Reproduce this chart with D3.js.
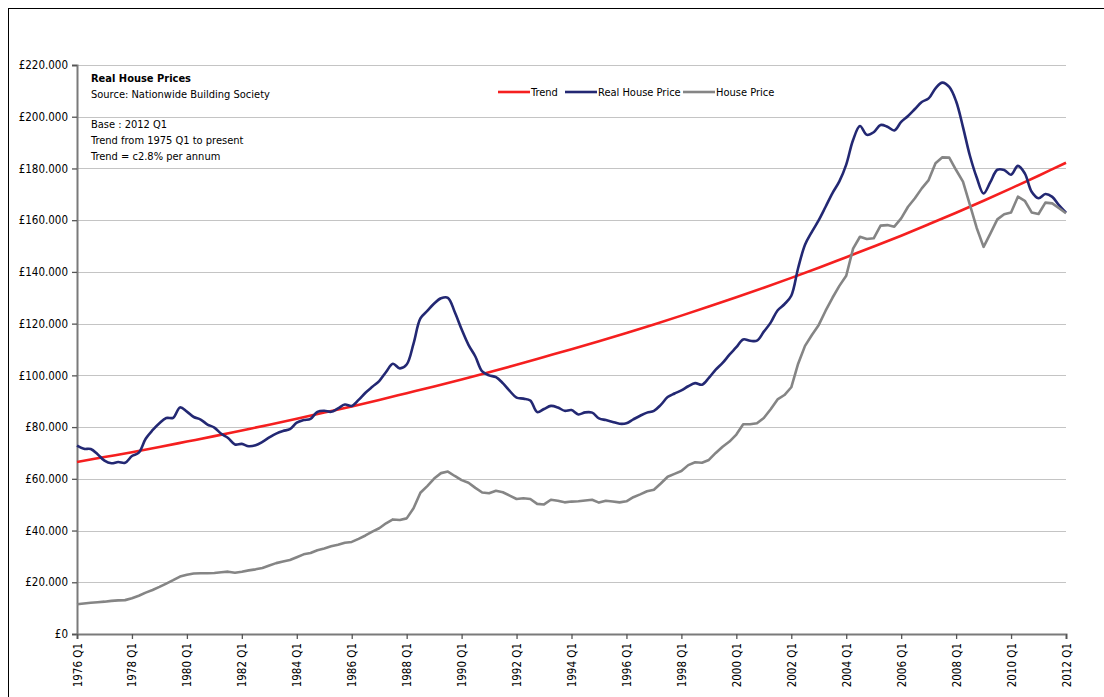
<!DOCTYPE html>
<html>
<head>
<meta charset="utf-8">
<script src="https://cdn.jsdelivr.net/npm/d3@7"></script>
<style>
  body { margin: 0; background: #fff; }
  text { font-family: "DejaVu Sans Condensed", "DejaVu Sans", sans-serif; fill: #000; }
</style>
</head>
<body>
<svg id="chart" width="1104" height="697"></svg>
<script>
// quarterly values, 1976 Q1 .. 2012 Q1, in £ thousands
const realPrice = [
  72.8, 71.6, 71.5, 69.5, 67.0, 66.0, 66.5, 66.2, 68.8, 70.1,
  75.5, 78.8, 81.5, 83.5, 83.6, 87.6, 86.0, 83.9, 82.9, 81.0,
  79.8, 77.4, 75.8, 73.3, 73.5, 72.6, 73.0, 74.3, 76.0, 77.5,
  78.5, 79.2, 81.7, 82.7, 83.2, 85.9, 86.3, 85.9, 87.2, 88.7,
  88.2, 90.5, 93.3, 95.6, 97.8, 101.3, 104.5, 102.7, 104.2, 112.3,
  122.0, 124.9, 127.8, 129.8, 130.0, 124.5, 117.8, 111.8, 107.3, 101.5,
  100.0, 99.3, 97.0, 94.0, 91.4, 91.0, 90.3, 85.8, 87.0, 88.2,
  87.6, 86.3, 86.6, 84.9, 85.7, 85.6, 83.4, 82.7, 82.0, 81.3,
  81.5, 83.0, 84.4, 85.6, 86.3, 88.6, 91.6, 93.0, 94.2, 95.8,
  97.0, 96.4, 99.0, 102.2, 104.8, 108.0, 110.9, 113.9, 113.4, 113.4,
  116.9, 120.4, 125.1, 127.5, 130.8, 141.5, 150.5, 155.5, 160.0, 165.2,
  170.5, 175.0, 181.5, 191.0, 196.4, 193.0, 194.0, 196.8, 196.1, 194.7,
  198.0, 200.3, 203.0, 205.7, 207.1, 211.0, 213.2, 211.5, 206.0, 196.0,
  185.0, 176.5, 170.3, 174.8, 179.5, 179.4, 177.6, 181.0, 178.1, 171.0,
  168.5, 170.1, 169.0, 165.7, 162.9
];
const housePrice = [
  11.5, 11.8, 12.1, 12.3, 12.5, 12.8, 13.0, 13.1, 13.8, 14.8,
  16.0, 17.0, 18.2, 19.5, 20.8, 22.2, 22.9, 23.4, 23.5, 23.5,
  23.6, 23.9, 24.1, 23.7, 24.1, 24.6, 25.0, 25.5, 26.5, 27.4,
  28.0, 28.6, 29.7, 30.8, 31.3, 32.4, 33.1, 33.9, 34.5, 35.3,
  35.6, 36.8, 38.1, 39.6, 40.9, 42.8, 44.3, 44.1, 44.7, 48.6,
  54.6, 57.2, 60.1, 62.2, 62.8, 61.1, 59.5, 58.5, 56.5, 54.7,
  54.4, 55.4, 54.8, 53.5, 52.2, 52.5, 52.2, 50.3, 50.1, 51.9,
  51.5, 50.9, 51.2, 51.3, 51.6, 51.9, 50.8, 51.5, 51.2, 50.9,
  51.3, 52.9, 54.0, 55.2, 55.8, 58.2, 60.8, 61.9, 63.0, 65.3,
  66.4, 66.2, 67.3, 70.0, 72.4, 74.4, 77.1, 81.1, 81.1, 81.5,
  83.5, 86.9, 90.7, 92.4, 95.4, 104.5, 111.4, 115.6, 119.5, 125.0,
  130.0, 134.6, 138.5, 149.0, 153.6, 152.7, 153.0, 157.9, 158.1, 157.5,
  160.7, 165.2, 168.5, 172.3, 175.5, 182.0, 184.3, 184.2, 179.4, 174.9,
  166.0, 157.0, 149.7, 154.9, 160.3, 162.3, 163.0, 169.1, 167.5, 163.0,
  162.4, 166.8, 166.5, 164.6, 162.7
];
// trend, one value per year at Q1 (1976 .. 2012)
const trendValues = [
  66.5, 68.4, 70.3, 72.3, 74.4, 76.5, 78.7, 80.9, 83.2, 85.6,
  88.0, 90.5, 93.1, 95.7, 98.4, 101.2, 104.1, 107.1, 110.1, 113.2,
  116.4, 119.7, 123.1, 126.6, 130.2, 133.9, 137.7, 141.6, 145.7, 149.8,
  154.0, 158.4, 162.9, 167.5, 172.3, 177.2, 182.2
];
const xTickLabels = ["1976 Q1", "1978 Q1", "1980 Q1", "1982 Q1", "1984 Q1", "1986 Q1",
  "1988 Q1", "1990 Q1", "1992 Q1", "1994 Q1", "1996 Q1", "1998 Q1", "2000 Q1",
  "2002 Q1", "2004 Q1", "2006 Q1", "2008 Q1", "2010 Q1", "2012 Q1"];
const yTicks = [0, 20, 40, 60, 80, 100, 120, 140, 160, 180, 200, 220];
const seriesNames = ["Trend", "Real House Price", "House Price"];
const seriesColors = ["#f51f1f", "#232873", "#858585"];

const svg = d3.select("#chart");
const margin = { top: 65, left: 77, right: 38, bottom: 63 };
const width = 1104 - margin.left - margin.right;
const height = 697 - margin.top - margin.bottom;

// frame around the whole chart
svg.append("rect")
  .attr("x", 8.5).attr("y", 8.5)
  .attr("width", 1110).attr("height", 710)
  .attr("fill", "none").attr("stroke", "#000").attr("stroke-width", 1);

const g = svg.append("g").attr("transform", `translate(${margin.left},${margin.top})`);

const x = d3.scaleLinear().domain([0, 144]).range([0, width]);
const y = d3.scaleLinear().domain([0, 220]).range([height, 0]);

const gbp = d3.formatLocale({ decimal: ",", thousands: ".", grouping: [3], currency: ["£", ""] }).format("$,.0f");

// gridlines
g.append("g")
  .selectAll("line")
  .data(yTicks.filter(d => d > 0))
  .join("line")
  .attr("x1", 0).attr("x2", width)
  .attr("y1", d => Math.round(y(d)) + 0.5).attr("y2", d => Math.round(y(d)) + 0.5)
  .attr("stroke", "#c4c4c4").attr("stroke-width", 1.2);

// y axis
const yAxis = g.append("g")
  .call(d3.axisLeft(y).tickValues(yTicks).tickSize(5).tickPadding(4).tickFormat(d => gbp(d * 1000)));
yAxis.selectAll("text").style("font-size", "11.5px");

// x axis
const xAxis = g.append("g")
  .attr("transform", `translate(0,${height})`)
  .call(d3.axisBottom(x).tickValues(d3.range(0, 145, 8)).tickSize(5).tickFormat((d, i) => xTickLabels[i]));
xAxis.selectAll("text")
  .style("font-size", "11.5px")
  .attr("text-anchor", "end")
  .attr("transform", "rotate(-90)")
  .attr("x", -9).attr("y", 0).attr("dy", "0.35em");

[yAxis, xAxis].forEach(a => {
  a.select(".domain").attr("stroke", "#7a7a7a").attr("stroke-width", 2);
  a.selectAll(".tick line").attr("stroke", "#555").attr("stroke-width", 1.3);
});

// lines: trend and real price smoothed, nominal price straight segments
const smooth = d3.line().x(d => x(d[0])).y(d => y(d[1])).curve(d3.curveCatmullRom.alpha(0.5));
const straight = d3.line().x(d => x(d[0])).y(d => y(d[1]));
const trendPts = trendValues.map((v, i) => [i * 4, v]);
const realPts = realPrice.map((v, i) => [i, v]);
const housePts = housePrice.map((v, i) => [i, v]);
[[trendPts, smooth], [realPts, smooth], [housePts, straight]].forEach(([pts, gen], i) => {
  g.append("path")
    .datum(pts)
    .attr("d", gen)
    .attr("fill", "none")
    .attr("stroke", seriesColors[i])
    .attr("stroke-width", 2.6)
    .attr("stroke-linejoin", "round");
});

// notes
const notes = svg.append("g").style("font-size", "11px");
notes.append("text").attr("x", 91).attr("y", 82).style("font-weight", "bold").text("Real House Prices");
notes.append("text").attr("x", 91).attr("y", 98).text("Source: Nationwide Building Society");
notes.append("text").attr("x", 91).attr("y", 128).text("Base : 2012 Q1");
notes.append("text").attr("x", 91).attr("y", 144).text("Trend from 1975 Q1 to present");
notes.append("text").attr("x", 91).attr("y", 160).text("Trend = c2.8% per annum");

// legend
const legendX = [498, 565, 683];
const legend = svg.append("g").style("font-size", "11px");
seriesNames.forEach((name, i) => {
  legend.append("line")
    .attr("x1", legendX[i]).attr("x2", legendX[i] + 32)
    .attr("y1", 92).attr("y2", 92)
    .attr("stroke", seriesColors[i]).attr("stroke-width", 2.6);
  legend.append("text").attr("x", legendX[i] + 33).attr("y", 96).text(name);
});
</script>
</body>
</html>
